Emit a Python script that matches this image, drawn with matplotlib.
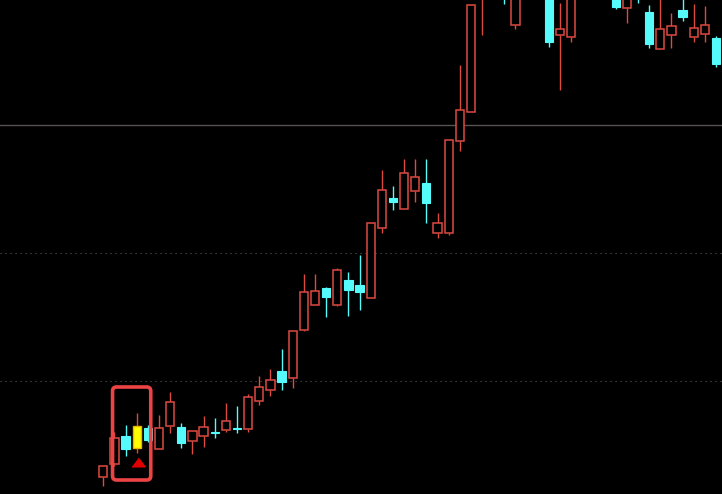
import matplotlib
matplotlib.use("Agg")
import matplotlib.pyplot as plt
from matplotlib.patches import Rectangle, FancyBboxPatch

# OHLC values (price units)
opens = [17.3, 30, 58, 46.3, 66, 45, 68.3, 67, 53, 58.3,
         62.3, 64, 66.3, 65, 93.3, 103.7, 122.7, 116.3, 164, 189.3,
         206, 189.3, 214, 209, 196.3, 266.3, 296, 285.3, 303.3, 311,
         261.3, 260.7, 353.3, 382.3, 514, 520, 540, 469.3, 530, 525,
         520, 459.3, 457.3, 510, 520, 505, 510, 485.7, 515, 481.7,
         445.3, 458.7, 484, 456.7, 459.7, 455.7]
highs = [28.3, 62, 69, 81.3, 69, 79, 102, 71.3, 63, 78,
         76, 91, 88, 100, 118, 125, 145, 163, 220, 220,
         207, 226, 222, 239, 270.7, 324, 308, 335, 335, 335,
         281, 353.7, 429, 489, 560, 555, 550, 530, 540, 545,
         525, 490.7, 515, 535, 530, 530, 515, 505, 520, 489,
         496, 480.7, 496, 490, 488, 458]
lows = [8.3, 28, 38, 40.7, 52, 45, 61, 45.7, 40, 47.3,
        56, 62, 61, 62.3, 89, 98.3, 104.3, 106.3, 163, 189,
        177.3, 188.3, 178.3, 184, 196, 261.3, 284, 285, 292.3, 271.3,
        256.3, 259.3, 343.3, 382.3, 459, 500, 490, 465.3, 500, 498,
        447.3, 404, 452.3, 500, 498, 497, 484.7, 471.3, 491.3, 446.3,
        444.7, 446.3, 472.7, 452.3, 452.3, 427.3]
closes = [28.3, 56, 45.3, 68, 54, 65.7, 92, 51.3, 63, 67,
          60.7, 72.7, 65, 96.7, 106.7, 113.7, 112, 163, 202, 202.7,
          197.3, 223.7, 204.3, 202.3, 270.7, 304, 292.3, 320.7, 316.7, 291,
          270.7, 353.7, 383.7, 489, 554, 545, 505, 520, 510, 505,
          452, 464.7, 505, 525, 505, 520, 486.7, 500, 500, 450.3,
          464.7, 467.7, 477.3, 465.7, 468.7, 429.7]

signal_index = 3          # highlighted (yellow) candle
box_first, box_last = 1, 4  # candles enclosed by the red frame
solid_level = 368.7
dotted_levels = [240.7, 112.7]

RED = "#dc4a40"
CYAN = "#55fafa"
YELLOW = "#ffff00"
BG = "#000000"

fig = plt.figure(figsize=(7.22, 4.94), dpi=100, facecolor=BG)
ax = fig.add_axes([0, 0, 1, 1], facecolor=BG)
ax.set_axis_off()

step_px = 11.14
x0_px = 103.3
ax.set_xlim(-x0_px / step_px, (722 - x0_px) / step_px)
ax.set_ylim(0, 494)

# reference lines
ax.axhline(solid_level, color="#5a5252", lw=1.0, zorder=1)
for lv in dotted_levels:
    ax.axhline(lv, color="#5a5a5a", lw=0.8, linestyle=(0, (1, 3.5)), zorder=1)

w = 0.74
for i, (o, h, l, c) in enumerate(zip(opens, highs, lows, closes)):
    top, bot = max(o, c), min(o, c)
    up = c >= o
    if i == signal_index:
        wick_col = RED
        ax.vlines(i, top, h, color=wick_col, lw=1, zorder=2)
        ax.vlines(i, l, bot, color=wick_col, lw=1, zorder=2)
        ax.add_patch(Rectangle((i - w / 2, bot), w, top - bot,
                               facecolor=YELLOW, edgecolor="#e8b400", lw=1, zorder=3))
    elif up:
        ax.vlines(i, top, h, color=RED, lw=1, zorder=2)
        ax.vlines(i, l, bot, color=RED, lw=1, zorder=2)
        ax.add_patch(Rectangle((i - w / 2, bot), w, max(top - bot, 0.8),
                               facecolor=BG, edgecolor=RED, lw=1.1, zorder=3))
    else:
        ax.vlines(i, l, h, color=CYAN, lw=1, zorder=2)
        ax.add_patch(Rectangle((i - w / 2, bot), w, max(top - bot, 1.5),
                               facecolor=CYAN, edgecolor=CYAN, lw=0.8, zorder=3))

# red frame around the signal area
bx0 = box_first - 0.17
bx1 = box_last + 0.26
by0 = 14
by1 = 107
frame = FancyBboxPatch((bx0, by0), bx1 - bx0, by1 - by0,
                       boxstyle="round,pad=0,rounding_size=0.36",
                       mutation_aspect=step_px,
                       facecolor="none", edgecolor="#ec4444", lw=2.6, zorder=6)
ax.add_patch(frame)

# red triangle under the signal candle
tri = [(-1, -0.667), (1, -0.667), (0, 0.667)]
ax.plot([signal_index + 0.14], [lows[signal_index] - 8.8], linestyle="none",
        marker=tri, markersize=9.4, color="#e00000", zorder=7)

fig.savefig("out.png", dpi=100, facecolor=BG)
